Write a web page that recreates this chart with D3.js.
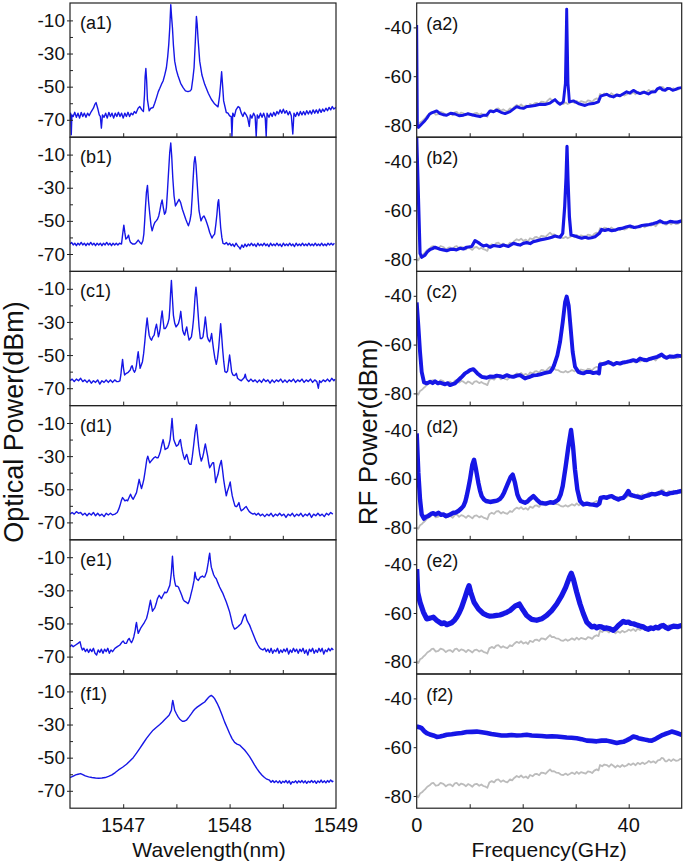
<!DOCTYPE html>
<html><head><meta charset="utf-8">
<script src="https://cdn.jsdelivr.net/npm/d3@7"></script>
<style>
html,body{margin:0;padding:0;background:#fff;}
svg text{font-family:"Liberation Sans",Arial,sans-serif;fill:#111;}
</style></head>
<body><svg id="c" width="685" height="865"></svg>
<script>
// ---------------- DATA ----------------
const panelLabelsL = ["(a1)","(b1)","(c1)","(d1)","(e1)","(f1)"];
const panelLabelsR = ["(a2)","(b2)","(c2)","(d2)","(e2)","(f2)"];
const wlTickLabels = [1547, 1548, 1549];
const wlTicks = [1547, 1547.5, 1548, 1548.5];
const optTickLabels = [-10, -30, -50, -70];
const optMinor = [-20, -40, -60];
const freqTickLabels = [0, 20, 40];
const freqTicks = [10, 20, 30, 40];
const rfTickLabels = [-40, -60, -80];

const a1 = [[1546.500,-69],[1546.506,-66],[1546.512,-79],[1546.518,-67],[1546.53,-68],[1546.545,-65.5],[1546.56,-68.5],[1546.575,-66],[1546.59,-69],[1546.605,-65.5],[1546.62,-68],[1546.635,-66],[1546.65,-68.5],[1546.665,-66],[1546.68,-67.5],[1546.70,-65],[1546.72,-63],[1546.735,-60.5],[1546.745,-59.6],[1546.76,-63],[1546.775,-67],[1546.785,-68],[1546.795,-75],[1546.805,-67],[1546.82,-68.5],[1546.835,-66],[1546.85,-69],[1546.865,-65.5],[1546.88,-68],[1546.895,-66],[1546.91,-69],[1546.925,-66],[1546.94,-68],[1546.955,-65.5],[1546.97,-68],[1546.985,-66],[1547.00,-69],[1547.015,-66],[1547.03,-68],[1547.045,-65.5],[1547.06,-68],[1547.075,-66],[1547.09,-67],[1547.105,-65],[1547.12,-66],[1547.14,-63],[1547.156,-62],[1547.175,-64],[1547.19,-65],[1547.20,-55],[1547.206,-44],[1547.213,-39],[1547.22,-46],[1547.228,-58],[1547.244,-64.6],[1547.26,-63],[1547.281,-62.6],[1547.296,-60],[1547.313,-56.6],[1547.33,-53],[1547.344,-51],[1547.36,-48.5],[1547.375,-46.6],[1547.39,-43],[1547.406,-38.6],[1547.418,-32],[1547.428,-24.6],[1547.438,-14],[1547.447,-0.5],[1547.455,-8],[1547.463,-14.6],[1547.472,-25],[1547.484,-34.6],[1547.50,-40],[1547.516,-43.6],[1547.54,-48],[1547.563,-50.6],[1547.585,-52.5],[1547.609,-53],[1547.63,-52.5],[1547.641,-51.6],[1547.655,-45],[1547.666,-38.6],[1547.678,-22.6],[1547.688,-7.6],[1547.695,-12],[1547.703,-20.6],[1547.719,-34.6],[1547.74,-43],[1547.766,-48.6],[1547.80,-54],[1547.828,-57.6],[1547.86,-60.5],[1547.891,-62.2],[1547.905,-56],[1547.913,-50.6],[1547.925,-41],[1547.935,-50],[1547.944,-58.6],[1547.969,-65.6],[1547.985,-66],[1548.00,-67.6],[1548.015,-68],[1548.022,-80],[1548.03,-66],[1548.045,-68],[1548.06,-64],[1548.08,-62],[1548.094,-62.6],[1548.11,-66],[1548.125,-68],[1548.14,-65.5],[1548.156,-67],[1548.17,-69],[1548.185,-74],[1548.195,-67],[1548.21,-69],[1548.225,-66],[1548.24,-68],[1548.25,-80],[1548.26,-67],[1548.275,-69],[1548.29,-66],[1548.305,-68.5],[1548.32,-66],[1548.335,-69],[1548.344,-80],[1548.352,-66],[1548.37,-68.5],[1548.385,-66],[1548.40,-68],[1548.415,-65.5],[1548.43,-67.5],[1548.445,-65],[1548.46,-66.5],[1548.475,-64],[1548.49,-66],[1548.505,-63.6],[1548.52,-66],[1548.535,-64.5],[1548.55,-67],[1548.565,-65],[1548.58,-67.5],[1548.594,-78.6],[1548.605,-66],[1548.62,-68],[1548.635,-65.5],[1548.65,-67.5],[1548.665,-65],[1548.68,-67],[1548.695,-65],[1548.71,-67],[1548.725,-64.5],[1548.74,-66.5],[1548.755,-64.5],[1548.77,-66.5],[1548.785,-64],[1548.80,-66],[1548.815,-64],[1548.83,-66],[1548.845,-63.5],[1548.86,-65.5],[1548.875,-63.5],[1548.89,-65],[1548.905,-63],[1548.92,-64.5],[1548.935,-62.5],[1548.95,-64],[1548.965,-62],[1548.98,-63.5],[1549.0,-62.5]];

const b1 = [[1546.50,-64],[1546.515,-63],[1546.53,-64.5],[1546.545,-63.5],[1546.56,-65],[1546.575,-63.5],[1546.59,-64.5],[1546.605,-63],[1546.62,-64.5],[1546.635,-63.5],[1546.65,-65],[1546.665,-63.5],[1546.68,-64.5],[1546.695,-63],[1546.71,-64.5],[1546.725,-63.5],[1546.74,-65],[1546.755,-63.5],[1546.77,-64.5],[1546.785,-63.5],[1546.80,-65],[1546.815,-63.5],[1546.83,-64.5],[1546.845,-63],[1546.86,-64.5],[1546.875,-63.5],[1546.89,-65],[1546.905,-63.5],[1546.92,-64.5],[1546.935,-63.5],[1546.95,-64.5],[1546.965,-63.5],[1546.984,-64],[1546.995,-58],[1547.006,-52.6],[1547.015,-57],[1547.025,-61],[1547.04,-60],[1547.05,-58.6],[1547.06,-61.5],[1547.069,-63],[1547.09,-64],[1547.109,-64],[1547.125,-63],[1547.141,-61.6],[1547.157,-63],[1547.172,-64],[1547.185,-62],[1547.194,-58],[1547.202,-50],[1547.209,-42],[1547.218,-33],[1547.228,-28.6],[1547.238,-38],[1547.25,-46],[1547.262,-53],[1547.272,-56],[1547.285,-53],[1547.297,-51],[1547.31,-50],[1547.322,-49],[1547.334,-47],[1547.344,-44],[1547.355,-40],[1547.366,-37.4],[1547.377,-42],[1547.388,-46],[1547.398,-45],[1547.406,-42],[1547.416,-32],[1547.425,-22],[1547.437,-9],[1547.447,-3],[1547.456,-11],[1547.466,-24],[1547.478,-35],[1547.491,-41],[1547.508,-39],[1547.525,-37],[1547.54,-39],[1547.556,-43],[1547.572,-46],[1547.588,-49],[1547.60,-51],[1547.613,-53],[1547.627,-50],[1547.638,-46],[1547.648,-36],[1547.656,-26],[1547.666,-15],[1547.675,-11.2],[1547.684,-16],[1547.694,-26],[1547.704,-36],[1547.713,-44],[1547.731,-50],[1547.745,-48],[1547.759,-47],[1547.774,-49],[1547.788,-51.6],[1547.80,-54],[1547.813,-57],[1547.834,-60.4],[1547.846,-59],[1547.859,-58],[1547.871,-52],[1547.881,-46],[1547.89,-39],[1547.897,-37.2],[1547.906,-45],[1547.916,-54],[1547.927,-60],[1547.938,-63.6],[1547.955,-64],[1547.97,-63],[1547.985,-64.5],[1548.0,-63.5],[1548.015,-65],[1548.03,-64],[1548.045,-65.5],[1548.06,-63.5],[1548.075,-65],[1548.09,-66],[1548.10,-67],[1548.115,-64.5],[1548.13,-66],[1548.145,-64],[1548.16,-65.5],[1548.175,-64],[1548.19,-65],[1548.205,-63.5],[1548.22,-65],[1548.235,-64],[1548.25,-65.5],[1548.265,-63.5],[1548.28,-65],[1548.295,-64],[1548.31,-65],[1548.325,-63.5],[1548.34,-65],[1548.355,-64],[1548.37,-65.5],[1548.385,-63.5],[1548.40,-65],[1548.415,-64],[1548.43,-65],[1548.445,-63.5],[1548.46,-65],[1548.475,-64],[1548.49,-65.5],[1548.505,-63.5],[1548.52,-65],[1548.535,-64],[1548.55,-65],[1548.565,-63.5],[1548.58,-65],[1548.595,-64],[1548.61,-65.5],[1548.625,-63.5],[1548.64,-65],[1548.655,-64],[1548.67,-65],[1548.685,-63.5],[1548.70,-65],[1548.715,-64],[1548.73,-65],[1548.745,-63.5],[1548.76,-65],[1548.775,-64],[1548.79,-65],[1548.805,-63.5],[1548.82,-65],[1548.835,-64],[1548.85,-65],[1548.865,-63.5],[1548.88,-65],[1548.895,-64],[1548.91,-65],[1548.925,-63.5],[1548.94,-64.5],[1548.955,-63.5],[1548.97,-64.5],[1548.985,-63.5]];

const c1 = [[1546.50,-65.5],[1546.52,-64.5],[1546.54,-66],[1546.56,-64.5],[1546.58,-65.5],[1546.60,-64],[1546.62,-66],[1546.64,-65],[1546.66,-66.5],[1546.68,-65],[1546.70,-67],[1546.72,-65.5],[1546.74,-66.5],[1546.76,-65],[1546.78,-67.5],[1546.80,-65.5],[1546.82,-66.5],[1546.84,-65],[1546.86,-66.5],[1546.88,-65],[1546.90,-66.5],[1546.92,-65],[1546.94,-66],[1546.953,-66],[1546.969,-65.6],[1546.978,-62],[1546.984,-58],[1546.994,-52.6],[1547.003,-58],[1547.013,-62],[1547.03,-61],[1547.047,-60.4],[1547.066,-59],[1547.076,-57],[1547.084,-56.4],[1547.095,-59],[1547.106,-60.4],[1547.116,-59],[1547.125,-56],[1547.134,-51],[1547.141,-48],[1547.15,-53],[1547.159,-58],[1547.17,-56],[1547.181,-54],[1547.192,-49],[1547.203,-42],[1547.214,-34],[1547.225,-27.6],[1547.234,-33],[1547.244,-38],[1547.255,-40],[1547.266,-41],[1547.279,-39],[1547.291,-38],[1547.302,-34],[1547.313,-31.4],[1547.322,-35],[1547.331,-39],[1547.339,-37],[1547.347,-34],[1547.356,-28],[1547.366,-23.4],[1547.375,-29],[1547.384,-34],[1547.395,-34],[1547.406,-33],[1547.419,-31],[1547.431,-28],[1547.438,-22],[1547.445,-13],[1547.453,-5],[1547.461,-14],[1547.472,-26],[1547.485,-31],[1547.497,-33],[1547.508,-32],[1547.519,-31],[1547.531,-28],[1547.541,-23.6],[1547.55,-29],[1547.559,-35],[1547.569,-37],[1547.578,-38],[1547.588,-35],[1547.597,-33],[1547.607,-37],[1547.619,-41],[1547.63,-40],[1547.641,-39],[1547.652,-34],[1547.66,-29],[1547.666,-24],[1547.675,-15],[1547.684,-9],[1547.693,-15],[1547.703,-24],[1547.713,-33],[1547.725,-40],[1547.738,-40],[1547.75,-39],[1547.762,-33],[1547.772,-27],[1547.782,-33],[1547.791,-39],[1547.802,-41],[1547.813,-42],[1547.822,-40],[1547.831,-37],[1547.84,-42],[1547.85,-47],[1547.862,-52],[1547.875,-55.6],[1547.886,-52],[1547.897,-46],[1547.907,-38],[1547.916,-31],[1547.925,-38],[1547.934,-46],[1547.945,-54],[1547.956,-60],[1547.969,-60.5],[1547.981,-59.6],[1547.99,-55],[1548.0,-50],[1548.01,-55],[1548.019,-60],[1548.031,-62],[1548.044,-62.4],[1548.054,-62],[1548.063,-61],[1548.075,-64],[1548.094,-65],[1548.11,-65.5],[1548.125,-64.5],[1548.138,-63.5],[1548.147,-61.6],[1548.156,-64],[1548.166,-65],[1548.18,-66],[1548.20,-64.5],[1548.22,-66],[1548.24,-65],[1548.26,-66.5],[1548.28,-65],[1548.30,-66.5],[1548.32,-64.5],[1548.34,-66],[1548.36,-65],[1548.38,-67],[1548.40,-65],[1548.42,-66.5],[1548.44,-65],[1548.46,-66],[1548.48,-64.5],[1548.50,-66.5],[1548.52,-65],[1548.54,-66.5],[1548.56,-65],[1548.58,-66],[1548.60,-64.5],[1548.62,-66.5],[1548.64,-65],[1548.66,-66],[1548.68,-64.5],[1548.70,-66.5],[1548.72,-65],[1548.74,-66],[1548.76,-64.5],[1548.78,-66.5],[1548.80,-65],[1548.82,-66],[1548.834,-70],[1548.845,-65.5],[1548.86,-66.5],[1548.88,-65],[1548.90,-66],[1548.92,-64.5],[1548.94,-66],[1548.96,-64],[1548.98,-65.5],[1548.99,-64.5]];

const d1 = [[1546.50,-65],[1546.52,-64],[1546.54,-65],[1546.56,-63.5],[1546.58,-64.5],[1546.60,-64],[1546.62,-65.5],[1546.64,-64.5],[1546.66,-66],[1546.68,-64.5],[1546.70,-65.5],[1546.72,-64],[1546.74,-66],[1546.76,-64.5],[1546.78,-66],[1546.80,-65],[1546.82,-66.5],[1546.84,-64.5],[1546.86,-65.5],[1546.88,-64.5],[1546.90,-65.5],[1546.922,-65],[1546.944,-64],[1546.958,-62],[1546.969,-60],[1546.982,-57],[1546.994,-55],[1547.005,-56],[1547.016,-57],[1547.029,-56.5],[1547.041,-57],[1547.055,-55],[1547.069,-53],[1547.082,-55],[1547.094,-56],[1547.11,-54],[1547.125,-52],[1547.138,-48],[1547.15,-44],[1547.161,-47],[1547.172,-49.6],[1547.183,-47],[1547.194,-44],[1547.204,-40],[1547.213,-36],[1547.222,-32],[1547.231,-30],[1547.24,-32],[1547.25,-34],[1547.262,-33],[1547.275,-32],[1547.289,-31],[1547.303,-30.4],[1547.315,-31],[1547.328,-31],[1547.34,-29],[1547.35,-27],[1547.363,-23],[1547.375,-20],[1547.385,-23],[1547.394,-26],[1547.406,-25.5],[1547.419,-25],[1547.43,-23],[1547.441,-20],[1547.45,-14],[1547.459,-7.2],[1547.467,-14],[1547.475,-20],[1547.487,-22],[1547.5,-24],[1547.51,-23.5],[1547.519,-23],[1547.528,-21],[1547.538,-20],[1547.547,-24],[1547.556,-27],[1547.567,-30],[1547.578,-32],[1547.588,-30],[1547.597,-29],[1547.606,-31],[1547.616,-34],[1547.627,-35],[1547.638,-35],[1547.65,-30],[1547.663,-23],[1547.675,-16],[1547.688,-11],[1547.698,-17],[1547.709,-24],[1547.72,-29],[1547.734,-33],[1547.745,-31],[1547.756,-28],[1547.764,-25],[1547.772,-22.6],[1547.782,-26],[1547.794,-30],[1547.803,-34],[1547.813,-37],[1547.822,-36],[1547.831,-35],[1547.84,-34],[1547.85,-34],[1547.86,-40],[1547.869,-46],[1547.88,-43],[1547.891,-41],[1547.906,-36],[1547.922,-32.6],[1547.933,-38],[1547.944,-44],[1547.956,-49],[1547.969,-54],[1547.98,-51],[1547.991,-49],[1548.0,-47],[1548.006,-45.6],[1548.015,-50],[1548.025,-54],[1548.037,-57],[1548.05,-60],[1548.062,-60.5],[1548.072,-60],[1548.088,-58],[1548.098,-61],[1548.109,-63],[1548.12,-62.5],[1548.131,-62],[1548.144,-61],[1548.156,-60.4],[1548.17,-62],[1548.185,-63.5],[1548.203,-64.4],[1548.22,-65],[1548.235,-64.5],[1548.25,-65.6],[1548.27,-64.5],[1548.29,-66],[1548.31,-65],[1548.33,-66.5],[1548.35,-65],[1548.37,-66],[1548.39,-64.5],[1548.41,-66.5],[1548.43,-65],[1548.45,-66],[1548.47,-64.5],[1548.49,-66],[1548.51,-65],[1548.53,-67],[1548.55,-65],[1548.57,-66],[1548.59,-64.5],[1548.61,-66.5],[1548.63,-65],[1548.65,-66],[1548.67,-64.5],[1548.69,-66.5],[1548.71,-65],[1548.73,-66],[1548.75,-64.5],[1548.77,-67],[1548.79,-65],[1548.81,-66],[1548.83,-64.5],[1548.85,-66],[1548.87,-65],[1548.89,-66.5],[1548.91,-64.5],[1548.93,-65.5],[1548.95,-64],[1548.97,-65]];

const e1 = [[1546.50,-64],[1546.515,-63],[1546.53,-64],[1546.553,-63],[1546.575,-62],[1546.594,-61],[1546.605,-64],[1546.616,-66],[1546.63,-65],[1546.645,-67],[1546.66,-65.5],[1546.675,-67.5],[1546.69,-65.5],[1546.705,-67],[1546.72,-65],[1546.735,-68],[1546.75,-69],[1546.765,-66],[1546.78,-67.5],[1546.795,-65.5],[1546.81,-68],[1546.825,-65.5],[1546.84,-67],[1546.855,-65],[1546.87,-68],[1546.885,-66],[1546.90,-67],[1546.922,-65],[1546.945,-64],[1546.969,-63],[1546.985,-61.5],[1547.0,-60.6],[1547.015,-62],[1547.031,-62],[1547.044,-60],[1547.056,-59],[1547.067,-60.5],[1547.078,-61.6],[1547.09,-60],[1547.1,-58],[1547.113,-54],[1547.119,-51],[1547.125,-49.4],[1547.133,-53],[1547.141,-56],[1547.152,-54.5],[1547.163,-53],[1547.178,-51.5],[1547.194,-50],[1547.206,-48.5],[1547.219,-47],[1547.229,-44.5],[1547.238,-42],[1547.247,-39],[1547.256,-36],[1547.265,-39],[1547.275,-42.6],[1547.286,-41.5],[1547.297,-40.6],[1547.31,-38],[1547.322,-35],[1547.33,-34],[1547.338,-33],[1547.348,-34],[1547.359,-35],[1547.375,-33],[1547.391,-31],[1547.402,-31.5],[1547.413,-31],[1547.425,-29],[1547.438,-27],[1547.446,-23],[1547.453,-19],[1547.458,-14],[1547.463,-9.4],[1547.469,-15],[1547.475,-21],[1547.485,-25],[1547.494,-27.4],[1547.506,-27.5],[1547.519,-28],[1547.528,-29.5],[1547.538,-31],[1547.55,-33],[1547.563,-35.4],[1547.575,-36.5],[1547.588,-37],[1547.599,-37.5],[1547.609,-38],[1547.62,-36.5],[1547.631,-34],[1547.64,-31.5],[1547.65,-29],[1547.658,-26.5],[1547.666,-24],[1547.671,-21],[1547.675,-19],[1547.681,-21.5],[1547.688,-23],[1547.697,-23.5],[1547.706,-24],[1547.716,-23],[1547.725,-22],[1547.735,-21.8],[1547.744,-21.4],[1547.755,-22],[1547.766,-22],[1547.775,-20.5],[1547.784,-19],[1547.792,-16],[1547.8,-13],[1547.806,-10],[1547.813,-7.6],[1547.82,-12],[1547.828,-16],[1547.84,-18.5],[1547.85,-20.6],[1547.862,-22],[1547.875,-23],[1547.89,-25.5],[1547.906,-28],[1547.922,-30],[1547.938,-32],[1547.953,-34.5],[1547.969,-37],[1547.985,-40],[1548.0,-43],[1548.013,-46.5],[1548.025,-50],[1548.036,-52],[1548.047,-53.4],[1548.062,-52.8],[1548.078,-52],[1548.094,-51],[1548.109,-50],[1548.12,-48],[1548.131,-46],[1548.14,-45],[1548.147,-44.4],[1548.155,-46],[1548.163,-48],[1548.175,-49.5],[1548.188,-51],[1548.203,-53.5],[1548.219,-56],[1548.234,-58.5],[1548.25,-61],[1548.266,-63],[1548.281,-64.6],[1548.297,-65.5],[1548.313,-66],[1548.33,-65],[1548.345,-67],[1548.36,-65.5],[1548.375,-67.5],[1548.39,-65],[1548.405,-68],[1548.42,-66],[1548.435,-67],[1548.45,-65],[1548.465,-68],[1548.48,-66],[1548.495,-67.5],[1548.51,-65.5],[1548.525,-67],[1548.54,-65],[1548.555,-68.5],[1548.57,-66],[1548.585,-67.5],[1548.60,-65],[1548.615,-67],[1548.63,-65.5],[1548.645,-68],[1548.66,-65.5],[1548.675,-67],[1548.69,-65],[1548.705,-68],[1548.72,-66],[1548.735,-69],[1548.75,-65.5],[1548.765,-67],[1548.78,-65],[1548.795,-68],[1548.81,-66],[1548.825,-67.5],[1548.84,-65],[1548.855,-67],[1548.87,-65],[1548.885,-68.5],[1548.90,-66],[1548.915,-67],[1548.93,-65],[1548.945,-66.5],[1548.96,-65],[1548.975,-66]];

const f1 = [[1546.50,-62],[1546.52,-61.5],[1546.54,-60.8],[1546.553,-60.4],[1546.575,-60],[1546.60,-59.6],[1546.62,-60.2],[1546.644,-61],[1546.675,-61.6],[1546.706,-62],[1546.74,-62.3],[1546.769,-62.4],[1546.80,-62.3],[1546.831,-62],[1546.862,-61.3],[1546.894,-60.4],[1546.925,-59],[1546.956,-57.4],[1546.994,-55.8],[1547.031,-54],[1547.063,-52],[1547.094,-50],[1547.125,-47.3],[1547.156,-44.4],[1547.188,-41.3],[1547.219,-38.4],[1547.25,-35.8],[1547.281,-33.4],[1547.313,-31.6],[1547.344,-30],[1547.369,-28.5],[1547.391,-27],[1547.41,-25.8],[1547.431,-24.4],[1547.445,-22.5],[1547.453,-21.4],[1547.46,-17.5],[1547.466,-15.4],[1547.474,-18],[1547.484,-21.4],[1547.5,-23.5],[1547.516,-25.4],[1547.535,-27],[1547.556,-28],[1547.575,-28],[1547.594,-27.4],[1547.617,-25.5],[1547.641,-23.4],[1547.656,-22],[1547.672,-20.8],[1547.695,-19.5],[1547.719,-18.4],[1547.742,-17.4],[1547.766,-16.4],[1547.781,-15.2],[1547.797,-14],[1547.813,-13],[1547.828,-12.4],[1547.844,-13.2],[1547.859,-14.4],[1547.883,-17.2],[1547.906,-20.4],[1547.93,-24.4],[1547.953,-28.4],[1547.977,-32],[1548.0,-35.4],[1548.023,-38.5],[1548.047,-40.8],[1548.07,-41.8],[1548.094,-42.4],[1548.117,-43.8],[1548.141,-45.4],[1548.164,-47.3],[1548.188,-49.4],[1548.211,-51.8],[1548.234,-54.4],[1548.258,-56.8],[1548.281,-58.8],[1548.305,-60.6],[1548.328,-62],[1548.35,-63],[1548.375,-63.6],[1548.39,-64.8],[1548.405,-63.8],[1548.42,-65],[1548.438,-64],[1548.455,-65.2],[1548.47,-64],[1548.485,-65.5],[1548.50,-64.2],[1548.515,-65],[1548.53,-63.8],[1548.545,-65.3],[1548.56,-64],[1548.575,-66],[1548.59,-64.5],[1548.605,-65],[1548.62,-64],[1548.635,-65.3],[1548.65,-64],[1548.665,-65],[1548.68,-63.8],[1548.695,-65.2],[1548.71,-64],[1548.725,-65.5],[1548.74,-64.2],[1548.755,-65],[1548.77,-63.8],[1548.785,-65],[1548.80,-64],[1548.815,-65.5],[1548.83,-64],[1548.845,-65],[1548.86,-63.5],[1548.875,-65],[1548.89,-64],[1548.905,-65.2],[1548.92,-63.8],[1548.935,-64.8],[1548.95,-63.5],[1548.965,-64.5],[1548.975,-64]];

// RF background (grey, no modulation)
const rfBg = [[0,-80],[0.3,-80.5],[0.63,-79],[1.0,-78.5],[1.3,-77.8],[1.57,-77.3],[2.0,-76.2],[2.52,-75.5],[2.8,-74.8],[3.14,-74.6],[3.6,-75.8],[4.09,-75.5],[4.5,-74.6],[5.03,-75],[5.5,-76],[6.0,-75.3],[6.29,-75.2],[6.8,-76],[7.2,-74.8],[7.55,-74.6],[8.0,-75.6],[8.4,-74.9],[8.81,-75.2],[9.3,-76],[9.7,-75.1],[10.06,-75.5],[10.5,-76.2],[10.9,-75.2],[11.32,-75],[11.8,-75.8],[12.2,-75.3],[12.58,-75.9],[13.0,-76.2],[13.33,-76.6],[13.7,-74.5],[14.15,-73.9],[14.6,-74.4],[15.0,-73.4],[15.41,-73.2],[15.9,-74.2],[16.3,-73.6],[16.67,-74.1],[17.1,-74.4],[17.61,-73.2],[18.0,-73.6],[18.4,-72.6],[18.87,-71.8],[19.3,-72.3],[19.7,-71.6],[20.13,-72.5],[20.6,-72],[21.0,-72.7],[21.38,-71.4],[21.9,-71.9],[22.3,-71],[22.64,-70.9],[23.1,-71.5],[23.5,-70.4],[23.9,-70.5],[24.3,-70.9],[24.8,-69.8],[25.16,-69.1],[25.5,-69.9],[25.91,-69.8],[26.3,-70.4],[26.73,-70.5],[27.2,-71.2],[27.67,-71.4],[28.1,-70.8],[28.5,-71.4],[28.93,-70.9],[29.3,-70.4],[29.8,-71],[30.19,-70.1],[30.6,-70.9],[31.0,-70.2],[31.45,-70.5],[31.9,-70.8],[32.3,-69.9],[32.7,-70.1],[33.1,-70.6],[33.5,-69.6],[33.96,-69.1],[34.3,-69.5],[34.59,-67.3],[35.0,-67.8],[35.4,-67.1],[35.85,-67.3],[36.3,-68],[36.7,-67],[37.11,-67.6],[37.5,-68.3],[37.9,-67.5],[38.36,-68.1],[38.8,-67.3],[39.2,-67.9],[39.62,-67.5],[40.0,-66.8],[40.4,-67.3],[40.88,-66.6],[41.3,-67.4],[41.7,-66.4],[42.14,-67],[42.6,-66.3],[43.0,-66.9],[43.4,-66.4],[43.8,-65.6],[44.2,-66.3],[44.65,-65.8],[45.1,-66.5],[45.5,-65.4],[45.91,-65.2],[46.2,-64.4],[46.54,-64.6],[46.9,-65.8],[47.17,-65.8],[47.6,-65],[48.0,-65.7],[48.43,-64.9],[48.9,-65.6],[49.37,-65.4],[49.7,-64.8],[50,-64.9]];

const a2 = [[0,-39],[0.13,-80.7],[0.31,-81],[0.94,-79.6],[1.4,-78.6],[1.89,-77.3],[2.4,-75.6],[2.83,-75],[3.3,-74.6],[3.77,-74.2],[4.4,-75.3],[5.0,-75.8],[5.66,-76],[6.4,-75.2],[7.23,-75.5],[8.0,-76.2],[8.81,-76],[9.6,-75.4],[10.38,-75.8],[11.2,-76.2],[11.95,-76.6],[12.6,-76],[13.21,-76],[13.84,-74.2],[14.5,-74.6],[15.09,-73.9],[15.9,-74.8],[16.67,-75.3],[17.61,-74.5],[18.3,-73.4],[18.87,-72.5],[19.5,-73],[20.13,-73.2],[20.8,-72.4],[21.38,-72.3],[22.3,-72],[23.27,-71.5],[24.2,-71.6],[25.16,-71],[26.1,-69.6],[26.6,-70.8],[27.04,-71.5],[27.67,-70.5],[28.05,-63],[28.2,-45],[28.3,-32.5],[28.4,-45],[28.55,-63],[28.81,-70.5],[29.56,-70.1],[30.5,-71.2],[31.1,-71.6],[31.76,-72],[32.5,-71.4],[33.33,-71.2],[34.28,-70.5],[34.72,-68.2],[35.3,-67.8],[35.85,-67.4],[36.5,-68.2],[37.11,-68.5],[37.7,-67.7],[38.36,-68],[39.0,-67.2],[39.62,-66.4],[40.2,-66.9],[40.88,-65.8],[41.5,-66.6],[42.14,-67.1],[42.9,-66.5],[43.71,-67.3],[44.3,-66.5],[44.97,-66.4],[45.4,-65.2],[45.91,-64.7],[46.4,-65.6],[46.86,-65.8],[47.3,-65],[47.8,-65.1],[48.3,-65.8],[48.74,-65.5],[49.4,-64.9],[50,-64.7]];

const b2 = [[0,-30],[0.63,-77.6],[0.94,-79.2],[1.57,-78.3],[2.0,-77],[2.52,-76],[3.0,-75.6],[3.46,-75.1],[4.4,-75.9],[5.0,-76.2],[5.66,-76.5],[6.3,-76],[6.92,-75.9],[7.5,-76.2],[8.18,-75.5],[8.8,-75.8],[9.43,-75.1],[10.38,-74.8],[11.01,-72.4],[11.64,-73.2],[12.0,-73.8],[12.58,-74.6],[13.2,-74.2],[13.84,-75.1],[14.5,-74.4],[15.09,-74.6],[15.7,-74.8],[16.35,-74.2],[17.3,-74.8],[18.24,-73.5],[18.9,-73.9],[19.5,-74.2],[20.1,-73.5],[20.75,-73.2],[21.4,-73.6],[22.01,-72.8],[22.6,-72.5],[23.27,-72.1],[24.0,-71.8],[24.84,-71.4],[25.5,-71],[26.1,-70.5],[26.6,-70.8],[27.04,-71],[27.55,-69.4],[27.92,-58.6],[28.18,-46.4],[28.36,-33.8],[28.55,-47.7],[28.81,-62.6],[29.12,-70.1],[29.87,-70.5],[30.5,-71],[31.13,-71.4],[31.8,-71],[32.39,-71.4],[33.0,-71.2],[33.65,-70.8],[34.47,-69.4],[34.91,-67.8],[35.5,-68.2],[36.16,-67.8],[36.8,-68.3],[37.42,-68.1],[38.0,-67.6],[38.68,-67.4],[39.5,-66.8],[40.25,-66.4],[41.0,-67],[41.82,-66.7],[42.5,-66.2],[43.08,-66],[43.9,-65.8],[44.65,-65.4],[45.3,-65],[45.91,-64.3],[46.5,-65],[47.17,-65.1],[47.8,-64.5],[48.43,-64.7],[49.2,-64.8],[50,-64.3]];

const c2 = [[0,-42.7],[0.31,-52.2],[0.63,-63],[0.94,-71.2],[1.38,-75.5],[1.89,-75.9],[2.52,-75.2],[3.0,-75.8],[3.46,-75],[4.0,-75.9],[4.4,-75.6],[5.35,-76.3],[5.8,-75.8],[6.29,-76.6],[6.8,-76.2],[7.23,-75.9],[7.7,-74.9],[8.18,-73.9],[8.6,-73],[9.12,-71.8],[9.6,-71.2],[10.06,-70.5],[10.69,-70.1],[11.1,-71],[11.45,-71.8],[11.9,-72.6],[12.26,-73.2],[13.21,-73.6],[13.8,-73.1],[14.47,-73.2],[15.1,-72.7],[15.72,-72.9],[16.3,-73.3],[16.98,-72.5],[17.6,-73],[18.24,-73.2],[18.9,-72.7],[19.5,-72.5],[20.0,-73.2],[20.44,-73.9],[21.0,-73.4],[21.38,-73.2],[22.0,-72.6],[22.64,-72.5],[23.3,-72.2],[23.9,-71.8],[24.5,-71.5],[25.16,-71.2],[25.6,-70],[25.91,-68.5],[26.54,-64.4],[27.04,-59],[27.55,-50.8],[27.99,-42.7],[28.3,-40.3],[28.68,-44],[29.06,-53.6],[29.43,-63],[29.87,-69.1],[30.5,-71.2],[31.0,-71.6],[31.45,-71.8],[32.0,-71.2],[32.7,-71.2],[33.3,-71.7],[33.96,-71.4],[34.4,-71.8],[34.59,-68.2],[35.0,-68],[35.53,-67.8],[36.16,-67.1],[36.6,-67.6],[37.11,-68.2],[37.7,-67.5],[38.36,-67.8],[39.0,-67.3],[39.62,-67.1],[40.2,-66.8],[40.88,-66.4],[41.5,-66.8],[42.14,-65.7],[42.8,-66.2],[43.4,-66.4],[44.0,-65.8],[44.65,-65.4],[45.4,-65],[46.23,-64.1],[46.7,-65],[47.17,-65.4],[47.8,-64.8],[48.43,-65],[49.2,-64.5],[50,-64.7]];

const d2 = [[0,-41.4],[0.31,-57.6],[0.63,-68.5],[0.94,-74.6],[1.38,-76.3],[1.8,-75.6],[2.2,-75.2],[2.7,-74.4],[3.14,-74.1],[3.6,-74.6],[4.09,-73.9],[4.6,-74.8],[5.03,-74.6],[5.5,-75.3],[5.97,-75],[6.5,-74.4],[6.92,-73.9],[7.4,-73.8],[7.86,-73.2],[8.3,-72.4],[8.81,-71.2],[9.15,-69.5],[9.43,-67.1],[9.75,-63.8],[10.06,-60.3],[10.5,-54.2],[10.82,-52.2],[11.2,-56.3],[11.64,-61.7],[11.95,-64.8],[12.26,-67.1],[12.7,-68.5],[13.08,-69.1],[13.84,-69.5],[14.3,-69.3],[14.78,-69.1],[15.3,-68.8],[15.72,-68.2],[16.1,-67.2],[16.48,-65.7],[17.11,-62.4],[17.74,-59.2],[18.11,-58.3],[18.55,-61.7],[18.99,-66.4],[19.3,-68],[19.62,-69.1],[20.44,-69.8],[20.9,-69.3],[21.26,-68.5],[22.01,-67.1],[22.64,-68.5],[23.27,-69.8],[23.9,-70],[24.53,-70.1],[25.2,-69.6],[25.79,-69.8],[26.3,-69.2],[26.73,-68.5],[27.15,-66.5],[27.55,-63],[28.11,-54.9],[28.62,-46.8],[29.12,-40],[29.5,-46.8],[29.87,-56.3],[30.31,-64.4],[30.82,-69.1],[31.45,-70.5],[32.1,-70.2],[32.7,-70.5],[33.3,-70.6],[33.96,-70.9],[34.47,-70.1],[34.72,-67.8],[35.3,-67.5],[35.85,-67.8],[36.3,-67.3],[36.79,-67.1],[37.4,-67.9],[38.05,-68.5],[38.5,-68],[38.99,-67.8],[39.5,-66.5],[39.94,-65],[40.25,-66.4],[40.7,-66.8],[41.19,-67.1],[41.8,-67.4],[42.45,-67.8],[43.1,-67.1],[43.71,-66.8],[44.3,-66.2],[44.97,-66.4],[45.6,-66],[46.23,-65.5],[46.7,-66.2],[47.17,-66.4],[47.8,-65.9],[48.43,-65.7],[49.2,-65.4],[50,-65]];

const e2 = [[0,-42],[0.19,-51.5],[0.63,-55.6],[1.26,-59.6],[1.89,-62.4],[2.52,-62.1],[3.14,-61.7],[3.77,-63],[4.72,-64.4],[5.2,-64],[5.66,-64.8],[6.6,-64],[7.1,-63],[7.55,-61.7],[8.0,-60],[8.49,-57.6],[9.12,-53.6],[9.62,-50.2],[9.87,-48.8],[10.19,-51.5],[10.82,-55.6],[11.64,-58.3],[12.58,-60.3],[13.2,-60.9],[13.84,-61.3],[14.5,-61.2],[15.09,-61],[15.7,-60.8],[16.35,-60.3],[17.0,-59.7],[17.61,-59],[18.55,-57.2],[19.37,-56.3],[20.0,-58.6],[20.75,-61],[21.7,-62.6],[22.64,-63],[23.58,-62.4],[24.53,-61],[25.47,-59],[26.42,-56.3],[27.36,-52.9],[28.11,-49.5],[28.81,-45.4],[29.18,-43.7],[29.56,-46.1],[30.19,-51.5],[30.82,-56.3],[31.45,-60.3],[32.08,-63.7],[33.02,-65.7],[33.5,-65.4],[33.96,-66.1],[34.4,-65.6],[34.91,-65.7],[35.4,-66.3],[35.85,-66.1],[36.5,-66.5],[37.11,-67.1],[37.6,-66.2],[38.05,-65.1],[38.99,-63.4],[39.5,-63.9],[39.94,-63.7],[40.4,-64.3],[40.88,-64.4],[41.4,-64.8],[41.82,-65.1],[42.3,-65.5],[42.77,-65.7],[43.2,-66.3],[43.71,-66.7],[44.2,-66.1],[44.65,-66.4],[45.1,-65.8],[45.6,-66.1],[46.1,-65.3],[46.54,-65.1],[47.0,-65.9],[47.48,-66.4],[48.0,-65.7],[48.43,-65.4],[49.2,-65.6],[50,-65.1]];

const f2 = [[0,-51.5],[0.5,-51.8],[0.94,-52.2],[1.4,-53.4],[1.89,-54.2],[2.5,-54.8],[3.14,-55.2],[3.8,-55.8],[4.4,-55.6],[5.0,-55.3],[5.66,-54.9],[6.6,-54.7],[7.55,-54.4],[8.5,-54.2],[9.43,-53.8],[10.4,-53.7],[11.32,-53.6],[12.3,-53.9],[13.21,-54.2],[14.1,-54.6],[15.09,-54.9],[16.0,-55.2],[16.98,-55.2],[17.9,-55],[18.87,-55.2],[19.8,-55.1],[20.75,-54.9],[21.7,-55.2],[22.64,-55.3],[23.6,-55.4],[24.53,-55.6],[25.5,-55.5],[26.42,-55.6],[27.4,-55.8],[28.3,-56],[29.2,-56.1],[30.19,-56.3],[31.1,-56.7],[32.08,-57.3],[33.0,-57.4],[33.96,-57.6],[34.9,-57.3],[35.85,-57.3],[36.8,-57.8],[37.74,-58.3],[38.4,-58],[38.99,-57.8],[39.6,-57.2],[40.25,-56.5],[40.88,-55.6],[41.4,-55.9],[41.82,-56.3],[42.5,-56.6],[43.08,-56.9],[43.7,-57.2],[44.34,-57.3],[45.0,-56.7],[45.6,-55.9],[46.2,-55.2],[46.86,-54.6],[47.5,-54.1],[48.11,-53.6],[48.6,-53.9],[49.06,-54.2],[50,-54.9]];

const optSeries = [a1, b1, c1, d1, e1, f1];
const rfSeries = [a2, b2, c2, d2, e2, f2];

// ---------------- LAYOUT / STYLE ----------------
const BLUE = "#1616e6", GREY = "#bcbcbc";
const top0 = 3, pH = 134.2;
const Lx0 = 70, Lx1 = 336, Rx0 = 416.7, Rx1 = 681.7;
const rfWidths = [2.9, 3.2, 3.9, 4.4, 5.2, 4.6];

const svg = d3.select("#c");
const xOpt = d3.scaleLinear().domain([1546.5, 1549]).range([Lx0, Lx1]);
const xRF = d3.scaleLinear().domain([0, 50]).range([Rx0, Rx1]);
const defs = svg.append("defs");

function frame(g, x0, x1, y0) {
  g.append("rect").attr("x", x0).attr("y", y0).attr("width", x1 - x0).attr("height", pH)
    .attr("fill", "none").attr("stroke", "#222").attr("stroke-width", 1.2);
}
function styleAxis(sel, fs) {
  sel.select(".domain").remove();
  sel.selectAll(".tick line").attr("stroke", "#222").attr("stroke-width", 1);
  sel.selectAll(".tick text").attr("font-size", fs).attr("fill", "#111")
     .attr("font-family", "'Liberation Sans',Arial,sans-serif");
}

for (let i = 0; i < 6; i++) {
  const y0 = top0 + i * pH, y1 = y0 + pH;
  const yOpt = d3.scaleLinear().domain([-80.5, 0.5]).range([y1, y0]);
  const yRF = d3.scaleLinear().domain([-85, -30]).range([y1, y0]);

  defs.append("clipPath").attr("id", "cl" + i).append("rect")
    .attr("x", Lx0).attr("y", y0).attr("width", Lx1 - Lx0).attr("height", pH);
  defs.append("clipPath").attr("id", "cr" + i).append("rect")
    .attr("x", Rx0).attr("y", y0).attr("width", Rx1 - Rx0).attr("height", pH);

  // ---- left (optical) ----
  const gl = svg.append("g");
  const lineO = d3.line().x(d => xOpt(d[0])).y(d => yOpt(d[1]));
  gl.append("path").datum(optSeries[i]).attr("d", lineO)
    .attr("clip-path", `url(#cl${i})`)
    .attr("fill", "none").attr("stroke", BLUE).attr("stroke-width", 1.4)
    .attr("stroke-linejoin", "round");

  const axL = gl.append("g").attr("transform", `translate(${Lx0},0)`)
    .call(d3.axisLeft(yOpt).tickValues(optTickLabels).tickSize(3).tickPadding(2).tickFormat(d => String(d)));
  styleAxis(axL, 19);
  const axLin = gl.append("g").attr("transform", `translate(${Lx0},0)`)
    .call(d3.axisRight(yOpt).tickValues(optTickLabels.concat(optMinor)).tickSize(3).tickFormat(""));
  styleAxis(axLin, 19);
  const axLb = gl.append("g").attr("transform", `translate(0,${y1})`)
    .call(d3.axisTop(xOpt).tickValues(wlTicks).tickSize(4).tickFormat(""));
  styleAxis(axLb, 19);
  frame(gl, Lx0, Lx1, y0);
  gl.append("text").attr("x", Lx0 + 10).attr("y", y0 + 26).attr("font-size", 18).text(panelLabelsL[i]);

  // ---- right (RF) ----
  const gr = svg.append("g");
  const lineR = d3.line().x(d => xRF(d[0])).y(d => yRF(d[1]));
  gr.append("path").datum(rfBg).attr("d", lineR)
    .attr("clip-path", `url(#cr${i})`)
    .attr("fill", "none").attr("stroke", GREY).attr("stroke-width", 1.8)
    .attr("stroke-linejoin", "round");
  gr.append("path").datum(rfSeries[i]).attr("d", lineR)
    .attr("clip-path", `url(#cr${i})`)
    .attr("fill", "none").attr("stroke", BLUE).attr("stroke-width", rfWidths[i])
    .attr("stroke-linejoin", "round");

  const axR = gr.append("g").attr("transform", `translate(${Rx0},0)`)
    .call(d3.axisLeft(yRF).tickValues(rfTickLabels).tickSize(3).tickPadding(2).tickFormat(d => String(d)));
  styleAxis(axR, 19);
  const axRb = gr.append("g").attr("transform", `translate(0,${y1})`)
    .call(d3.axisTop(xRF).tickValues(freqTicks).tickSize(4).tickFormat(""));
  styleAxis(axRb, 19);
  frame(gr, Rx0, Rx1, y0);
  gr.append("text").attr("x", Rx0 + 9.5).attr("y", y0 + 27).attr("font-size", 18).text(panelLabelsR[i]);
}

// bottom tick labels
const yBot = top0 + 6 * pH;
svg.append("g").selectAll("text").data(wlTickLabels).join("text")
  .attr("x", d => xOpt(d)).attr("y", yBot + 24).attr("text-anchor", "middle")
  .attr("font-size", 20).text(d => d);
svg.append("g").selectAll("text").data(freqTickLabels).join("text")
  .attr("x", d => xRF(d)).attr("y", yBot + 24).attr("text-anchor", "middle")
  .attr("font-size", 20).text(d => d);

// axis titles
svg.append("text").attr("x", (Lx0 + Lx1) / 2 + 6).attr("y", 857).attr("text-anchor", "middle")
  .attr("font-size", 21).text("Wavelength(nm)");
svg.append("text").attr("x", (Rx0 + Rx1) / 2).attr("y", 857).attr("text-anchor", "middle")
  .attr("font-size", 21).text("Frequency(GHz)");
svg.append("text").attr("transform", "translate(23,422) rotate(-90)").attr("text-anchor", "middle")
  .attr("font-size", 27).text("Optical Power(dBm)");
svg.append("text").attr("transform", "translate(377,432) rotate(-90)").attr("text-anchor", "middle")
  .attr("font-size", 26).text("RF Power(dBm)");
</script></body></html>
